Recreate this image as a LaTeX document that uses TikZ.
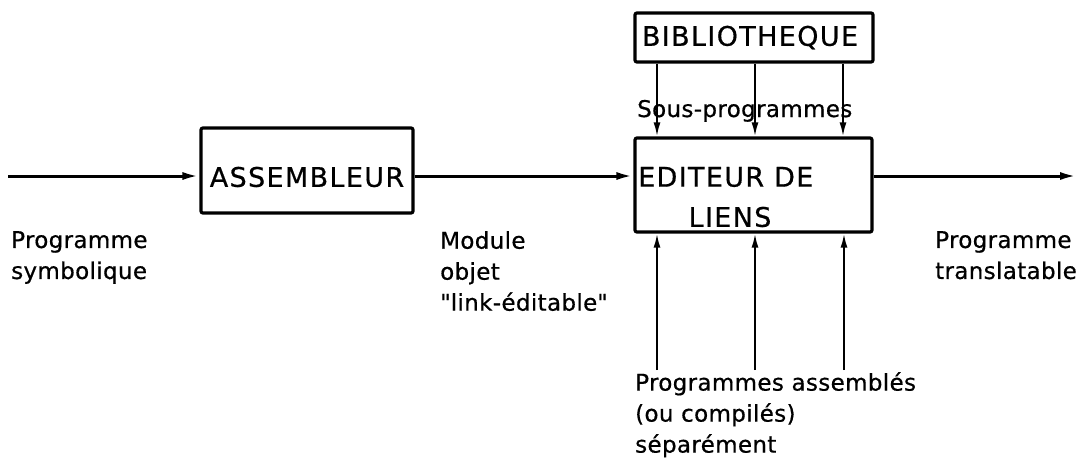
\documentclass[tikz,border=0pt]{standalone}
\usepackage{fontspec}
\setmainfont{DejaVu Sans}[FakeBold=0.6]
\usetikzlibrary{arrows.meta}
\tikzset{
  box/.style={draw, line width=3.2pt, rounded corners=2pt, inner sep=0},
  caps/.style={font=\fontsize{27}{30}\selectfont\addfontfeature{LetterSpace=5}, inner sep=0},
  lbl/.style={font=\fontsize{23}{31}\selectfont\addfontfeature{LetterSpace=1.5}, align=left, inner sep=0},
  flow/.style={line width=3pt, -{Latex[length=17pt,width=8pt]}},
  feed/.style={line width=2pt, -{Latex[length=14pt,width=7pt]}},
}
\begin{document}
\begin{tikzpicture}[x=1pt,y=-1pt]
\fill[white] (0,0) rectangle (1080,472);
\useasboundingbox (0,0) rectangle (1080,472);

% boxes
\node[box, minimum width=212pt, minimum height=85pt] (asm) at (307,170.5) {};
\node[caps] (asmt) at (307,177) {ASSEMBLEUR};
\node[box, minimum width=237pt, minimum height=94pt] (ed) at (753.5,185) {};
\node[caps, anchor=west] (edt1) at (638,177) {EDITEUR DE};
\node[caps] (edt2) at (730,217) {LIENS};
\node[box, minimum width=238pt, minimum height=49pt] (bib) at (754,37.5) {};
\node[caps] (bibt) at (750,37.5) {BIBLIOTHEQUE};

% main flow
\coordinate (in) at (8,176);
\coordinate (out) at (1077,176);
\draw[flow] (in) -- (in -| asm.west);
\draw[flow] (asm.east |- in) -- (ed.west |- in);
\draw[flow] (ed.east |- in) -- (out);

% library feeds
\coordinate (c1) at (657,0);
\coordinate (c2) at (755,0);
\coordinate (c3) at (843,0);
\draw[feed] (bib.south -| c1) -- (ed.north -| c1);
\draw[feed] (bib.south -| c2) -- (ed.north -| c2);
\draw[feed] (bib.south -| c3) -- (ed.north -| c3);

% separately assembled programs
\coordinate (b1) at (657,370);
\coordinate (b2) at (755,370);
\coordinate (b3) at (844,370);
\draw[feed] (b1) -- (ed.south -| b1);
\draw[feed] (b2) -- (ed.south -| b2);
\draw[feed] (b3) -- (ed.south -| b3);

% labels
\node[lbl, anchor=base west] (sp) at (637,117) {Sous-programmes};
\node[lbl, anchor=north west] (ps) at (11,231) {Programme\\symbolique};
\node[lbl, anchor=north west] (mo) at (440,231) {Module\\objet\\\textquotedbl link-éditable\textquotedbl};
\node[lbl, anchor=north west] (pt) at (935,231) {Programme\\translatable};
\node[lbl, anchor=north west] (pa) at (635,372) {Programmes assemblés\\(ou compilés)\\séparément};
\end{tikzpicture}
\end{document}
